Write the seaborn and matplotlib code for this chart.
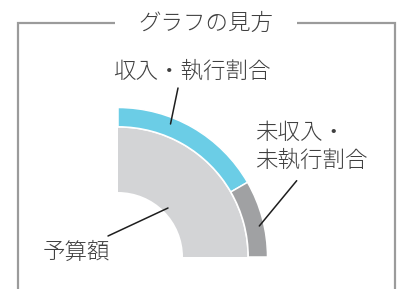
import matplotlib
matplotlib.use("Agg")
import matplotlib.pyplot as plt
from matplotlib.patches import Wedge
import seaborn as sns

# ---- data ----
title = "グラフの見方"
budget_label = "予算額"
categories = ["収入・執行割合", "未収入・\n未執行割合"]
shares = [66.7, 33.3]          # execution share vs. non-execution share (%)
budget_color = "#d3d4d6"
category_colors = ["#6bcde6", "#a0a1a3"]

sns.set_theme(style="white")
plt.rcParams["font.family"] = ["Noto Sans CJK JP", "DejaVu Sans"]

W, H = 399, 289
fig = plt.figure(figsize=(W / 100, H / 100), dpi=100)
ax = fig.add_axes([0, 0, 1, 1])
ax.set_xlim(0, W)
ax.set_ylim(0, H)
ax.set_axis_off()


def Y(y):
    return H - y


txt_color = "#404040"
frame_color = "#9b9b9b"
fs = 16.2
fw = 300

# frame with gap for the title
ax.plot([18, 18, 115], [Y(295), Y(23), Y(23)], color=frame_color, lw=1.6,
        solid_capstyle="butt", solid_joinstyle="miter")
ax.plot([297, 395, 395], [Y(23), Y(23), Y(295)], color=frame_color, lw=1.6,
        solid_capstyle="butt", solid_joinstyle="miter")
ax.text(206, Y(24), title, ha="center", va="center", fontsize=fs, fontweight=fw,
        color=txt_color)

# quarter donut
cx, cy = 118, Y(257)
ax.add_patch(Wedge((cx, cy), 129.3, 0, 90, width=129.3 - 65,
                   facecolor=budget_color, edgecolor="none"))
total = sum(shares)
start = 90.0
for val, col in zip(shares, category_colors):
    span = 90.0 * val / total
    ax.add_patch(Wedge((cx, cy), 149.5, start - span, start, width=149.5 - 130.2,
                       facecolor=col, edgecolor="white", lw=1.1))
    start -= span

# labels
ax.text(191.5, Y(72), categories[0], ha="center", va="center", fontsize=fs,
        fontweight=fw, color=txt_color)
ax.text(255, Y(147), categories[1], ha="left", va="center", fontsize=fs,
        fontweight=fw, color=txt_color, linespacing=1.32)
ax.text(43, Y(253), budget_label, ha="left", va="center", fontsize=fs,
        fontweight=fw, color=txt_color)

# leader lines
lc = "#1e1e1e"
ax.plot([178, 170.5], [Y(88), Y(124)], color=lc, lw=1.1)
ax.plot([296.7, 259.3], [Y(180.7), Y(226)], color=lc, lw=1.1)
ax.plot([108, 168], [Y(236), Y(208)], color=lc, lw=1.1)

fig.savefig("out.png", dpi=100, facecolor="white")
